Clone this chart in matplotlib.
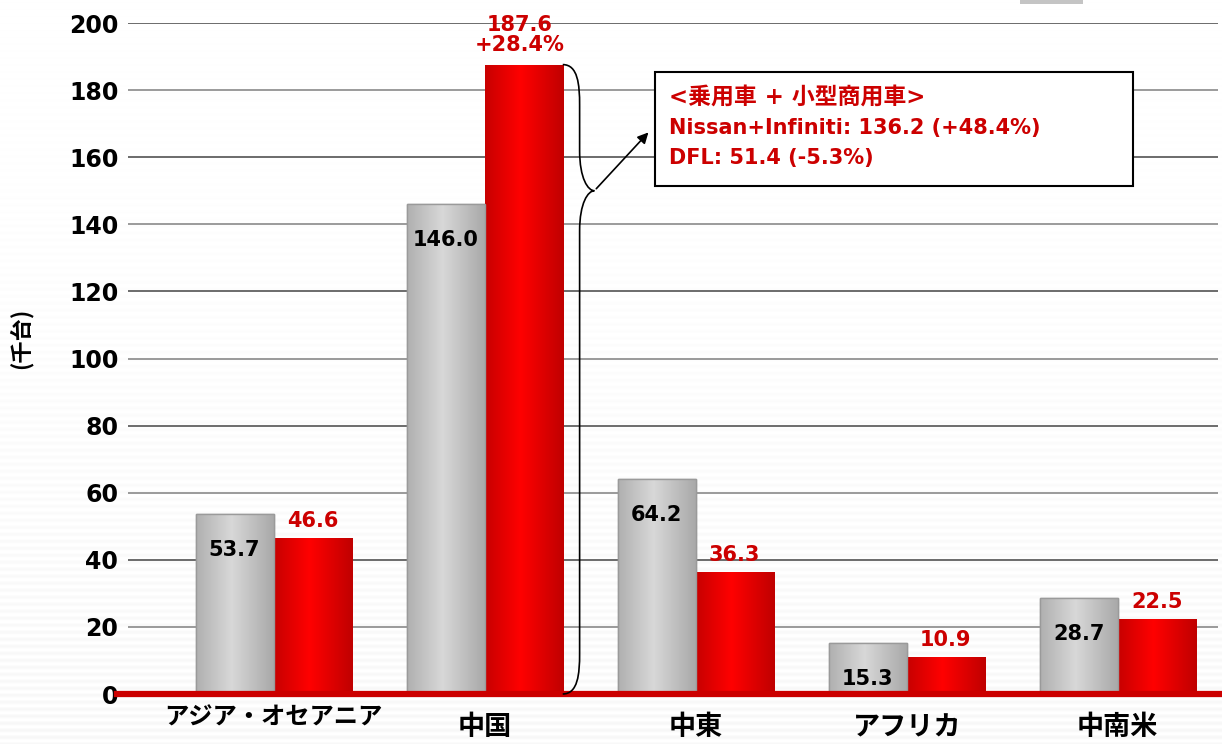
import matplotlib
matplotlib.use('Agg')
import matplotlib.pyplot as plt
import numpy as np
from matplotlib.colors import LinearSegmentedColormap
from matplotlib.path import Path
from matplotlib.patches import PathPatch, Rectangle

plt.rcParams['font.family'] = ['DejaVu Sans', 'Noto Sans CJK JP']
plt.rcParams['font.weight'] = 'bold'

# datos
regiones = ['アジア・オセアニア', '中国', '中東', 'アフリカ', '中南米']
prev = [53.7, 146.0, 64.2, 15.3, 28.7]
curr = [46.6, 187.6, 36.3, 10.9, 22.5]
china_growth = '+28.4%'
caja_txt = ['<乗用車 + 小型商用車>',
            'Nissan+Infiniti: 136.2 (+48.4%)',
            'DFL: 51.4 (-5.3%)']
yticks = [0, 20, 40, 60, 80, 100, 120, 140, 160, 180, 200]

rojo = '#cc0000'
W, H = 1222, 744
fig = plt.figure(figsize=(W / 100, H / 100), dpi=100)

# fondo con rayas suaves
rows = np.arange(H)
amp = 0.004 + 0.03 * (rows / H) ** 1.5
stripe = 1 - amp * (0.5 + 0.5 * np.sin(rows * 2 * np.pi / 7.0))
bg = np.repeat(stripe[:, None], W, axis=1)
fig.figimage(bg, cmap='gray', vmin=0, vmax=1, zorder=-10, origin='upper')
fig.patch.set_alpha(0)

ax = fig.add_axes([128 / W, 50 / H, 1090 / W, 671 / H])
ax.set_facecolor('none')

x = np.arange(len(regiones))
w = 0.37
b1 = ax.bar(x - w / 2, prev, w, color='#c8c8c8', edgecolor='#9a9a9a', lw=1, zorder=3)
b2 = ax.bar(x + w / 2, curr, w, color='#ee0000', lw=0, zorder=3)

cm_gris = LinearSegmentedColormap.from_list('g', [(0, '#b0b0b0'), (0.45, '#d8d8d8'), (1, '#a8a8a8')])
cm_rojo = LinearSegmentedColormap.from_list('r', [(0, '#c80000'), (0.45, '#ff0000'), (1, '#c00000')])
grad = np.linspace(0, 1, 100)[None, :]
for bars, cm in [(b1, cm_gris), (b2, cm_rojo)]:
    for r in bars:
        im = ax.imshow(grad, cmap=cm, aspect='auto', zorder=3.5,
                       extent=[r.get_x(), r.get_x() + r.get_width(), 0, r.get_height()])
        im.set_clip_path(r)
for r in b1:
    ax.add_patch(Rectangle((r.get_x(), 0), r.get_width(), r.get_height(),
                           fill=False, ec='#9a9a9a', lw=1, zorder=4))

ax.set_xlim(-0.69, 4.475)
ax.set_ylim(0, 200)

# grid
for t in yticks[1:]:
    ax.axhline(t, color='#444444' if t % 40 == 0 else '#808080', lw=1.1, zorder=1)
ax.axhline(0, xmin=-0.01, xmax=1.01, color=rojo, lw=4.5, zorder=5, clip_on=False)

for s in ax.spines.values():
    s.set_visible(False)
ax.set_yticks(yticks)
ax.set_yticklabels([str(t) for t in yticks], fontsize=17, fontweight='bold')
ax.tick_params(axis='y', length=0, pad=7)
ax.set_xticks([])

# etiquetas de valores
for i in range(len(regiones)):
    ax.annotate(f'{prev[i]:.1f}', (x[i] - w / 2, prev[i]), xytext=(0, -36),
                textcoords='offset pixels', ha='center', va='center',
                fontsize=15, fontweight='bold', color='black', zorder=6)
    if i == 1:
        ax.annotate(f'{curr[i]:.1f}\n{china_growth}', (x[i] + w / 2, curr[i]), xytext=(-4, 10),
                    textcoords='offset pixels', ha='center', va='bottom', linespacing=1.0,
                    fontsize=15, fontweight='bold', color=rojo, zorder=6)
    else:
        ax.annotate(f'{curr[i]:.1f}', (x[i] + w / 2, curr[i]), xytext=(0, 17),
                    textcoords='offset pixels', ha='center', va='center',
                    fontsize=15, fontweight='bold', color=rojo, zorder=6)
    dy = -24 if i == 0 else -33
    ax.annotate(regiones[i], (x[i], 0), xytext=(0, dy), textcoords='offset pixels',
                ha='center', va='center', fontsize=17.5 if i == 0 else 19.5, fontweight='bold',
                family=['Noto Sans CJK JP'], annotation_clip=False)

ax.set_ylabel('(千台)', fontsize=16, fontweight='bold', family=['Noto Sans CJK JP'])
ax.yaxis.set_label_coords(-0.088, 0.53)

# llave
x0 = x[1] + w
top, bot, tip = curr[1], 0.0, 150.0
d1, d2, r = 0.08, 0.15, 12.0
verts = [(x0, top), (x0 + d1 * 0.9, top), (x0 + d1, top - r * 0.5), (x0 + d1, top - r),
         (x0 + d1, tip + r), (x0 + d1, tip + r * 0.3), (x0 + d2 * 0.8, tip), (x0 + d2, tip),
         (x0 + d2 * 0.8, tip), (x0 + d1, tip - r * 0.3), (x0 + d1, tip - r),
         (x0 + d1, bot + r), (x0 + d1, bot + r * 0.5), (x0 + d1 * 0.9, bot), (x0, bot)]
codes = [Path.MOVETO, Path.CURVE4, Path.CURVE4, Path.CURVE4,
         Path.LINETO, Path.CURVE4, Path.CURVE4, Path.CURVE4,
         Path.CURVE4, Path.CURVE4, Path.CURVE4,
         Path.LINETO, Path.CURVE4, Path.CURVE4, Path.CURVE4]
ax.add_patch(PathPatch(Path(verts, codes), fill=False, lw=1.2, ec='black', zorder=6, clip_on=False))

# caja
bx0, bx1, by0, by1 = 1.805, 4.07, 151.4, 185.4
ax.add_patch(Rectangle((bx0, by0), bx1 - bx0, by1 - by0, fc='white', ec='black', lw=1.5, zorder=6))
ax.annotate('', xy=(bx0 - 0.02, 168.0), xytext=(x0 + d2, tip),
            arrowprops=dict(arrowstyle='-|>', color='black', lw=1.2, mutation_scale=16), zorder=7)
for k, line in enumerate(caja_txt):
    ax.text(bx0 + 0.07, by1 - 7.5 - k * 9.1, line, color=rojo, fontsize=16.5 if k == 0 else 15,
            fontweight='bold', va='center', ha='left', zorder=7)

# resto de leyenda cortada
fig.patches.append(Rectangle((1020 / W, 1 - 4 / H), 63 / W, 4 / H, transform=fig.transFigure,
                             fc='#c4c4c4', ec='none', figure=fig))

fig.savefig('out.png', dpi=100)
